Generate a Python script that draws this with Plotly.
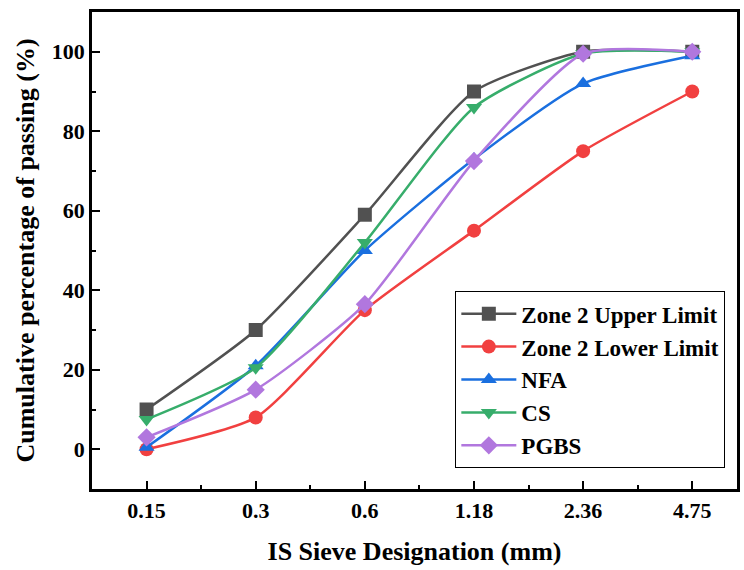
import plotly.graph_objects as go

sieves = ["0.15", "0.3", "0.6", "1.18", "2.36", "4.75"]
upper = [10, 30, 59, 90, 100, 100]
lower = [0, 8, 35, 55, 75, 90]
nfa = [0.5, 21, 50, 73, 92, 99]
cs = [7.5, 20.5, 52, 86, 99.5, 100]
pgbs = [3, 15, 36.5, 72.5, 99.5, 100]

series = [
    ("Zone 2 Upper Limit", upper, "#515151", "square"),
    ("Zone 2 Lower Limit", lower, "#F14040", "circle"),
    ("NFA", nfa, "#1A6FDF", "triangle-up"),
    ("CS", cs, "#37AD6B", "triangle-down"),
    ("PGBS", pgbs, "#B177DE", "diamond"),
]

xpos = list(range(len(sieves)))
fig = go.Figure()
for name, vals, color, sym in series:
    fig.add_trace(go.Scatter(
        x=xpos, y=vals, name=name, mode="lines+markers",
        line=dict(color=color, width=2.5, shape="spline", smoothing=0.6),
        marker=dict(symbol=sym, size=14, color=color),
    ))

font = "Liberation Serif, Times New Roman, serif"
fig.update_layout(
    width=744, height=570,
    margin=dict(l=92, r=4, t=12, b=81),
    plot_bgcolor="white", paper_bgcolor="white",
    font=dict(family=font, color="black"),
    showlegend=True,
    legend=dict(
        x=0.563, y=0.415, xanchor="left", yanchor="top",
        bordercolor="black", borderwidth=1.2, bgcolor="white",
        font=dict(family=font, size=23, color="black", weight="bold"),
        itemwidth=55, tracegroupgap=0,
    ),
)
fig.update_xaxes(
    range=[-0.5, 5.41], tickmode="array", tickvals=xpos, ticktext=sieves,
    showgrid=False, zeroline=False,
    showline=True, linecolor="black", linewidth=2.5, mirror=True,
    ticks="inside", ticklen=8, tickwidth=2, tickcolor="black",
    tickfont=dict(family=font, size=22, weight="bold"),
    minor=dict(tickmode="array", tickvals=[0.5, 1.5, 2.5, 3.5, 4.5],
               ticks="inside", ticklen=4, tickwidth=2, tickcolor="black"),
    title=dict(text="IS Sieve Designation (mm)",
               font=dict(family=font, size=26, weight="bold"), standoff=20),
)
fig.update_yaxes(
    range=[-10, 110], tickmode="array", tickvals=[0, 20, 40, 60, 80, 100],
    showgrid=False, zeroline=False,
    showline=True, linecolor="black", linewidth=2.5, mirror=True,
    ticks="inside", ticklen=8, tickwidth=2, tickcolor="black",
    tickfont=dict(family=font, size=22, weight="bold"),
    minor=dict(tickmode="array", tickvals=[10, 30, 50, 70, 90],
               ticks="inside", ticklen=4, tickwidth=2, tickcolor="black"),
    title=dict(text="Cumulative percentage of passing (%)",
               font=dict(family=font, size=26, weight="bold"), standoff=10),
)
fig.write_html("out.html")
